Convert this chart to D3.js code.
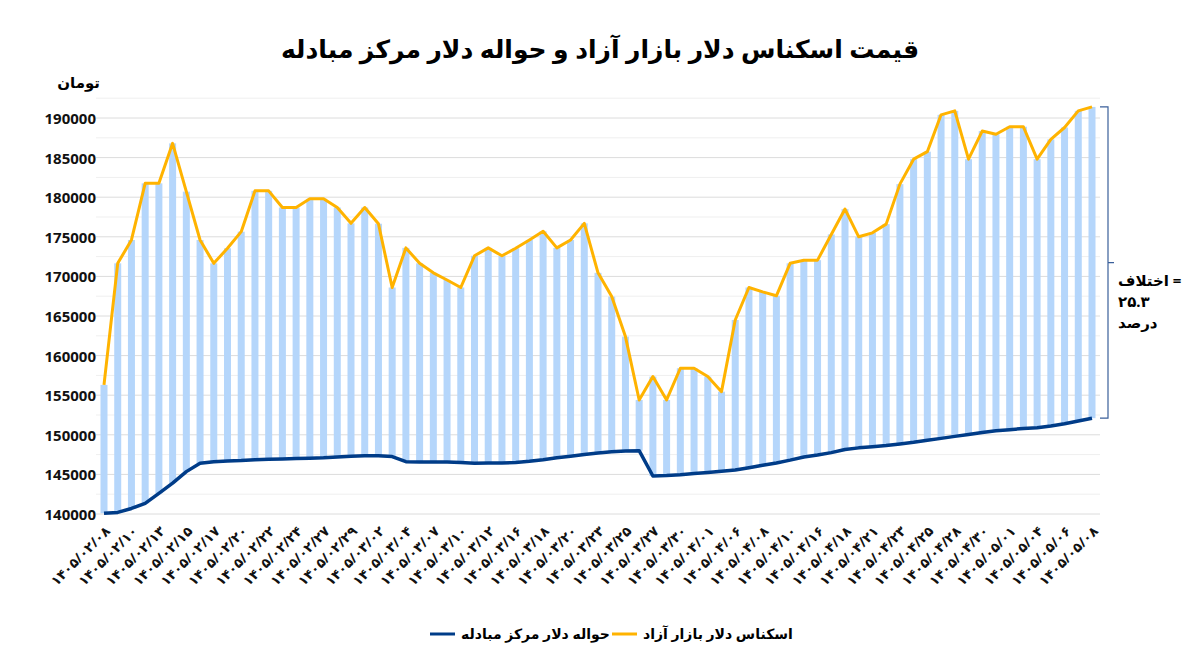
<!DOCTYPE html>
<html>
<head>
<meta charset="utf-8">
<script src="https://cdn.jsdelivr.net/npm/d3@7"></script>
<style>
  body { margin: 0; background: #fff; }
  text { font-family: "Noto Sans", "DejaVu Sans", sans-serif; }
</style>
</head>
<body>
<svg id="chart" width="1200" height="661"></svg>
<script>
// dates (1405/MM/DD), every other one is labelled
const dates = ['02/08','02/09','02/10','02/12','02/13','02/14','02/15','02/16','02/17','02/19',
  '02/20','02/21','02/22','02/23','02/24','02/26','02/27','02/28','02/29','02/31',
  '03/02','03/03','03/04','03/06','03/07','03/09','03/10','03/11','03/12','03/13',
  '03/16','03/17','03/18','03/19','03/20','03/21','03/23','03/24','03/25','03/26',
  '03/27','03/28','03/30','03/31','04/01','04/02','04/06','04/07','04/08','04/09',
  '04/10','04/11','04/16','04/17','04/18','04/20','04/21','04/22','04/23','04/24',
  '04/25','04/27','04/28','04/29','04/30','04/31','05/01','05/03','05/04','05/05',
  '05/06','05/07','05/08'];

// free market cash dollar
const freeMarket = [156300,171650,174600,181750,181750,186800,180700,174600,171650,173550,
  175650,180800,180800,178700,178700,179800,179800,178700,176700,178700,
  176650,168600,173600,171650,170450,169550,168600,172600,173600,172600,
  173550,174600,175700,173600,174600,176700,170450,167450,162400,154400,
  157350,154400,158400,158400,157350,155450,164500,168600,168050,167550,
  171650,172050,172050,175300,178500,175000,175500,176600,181650,184800,
  185750,190400,190900,184800,188350,187950,188900,188900,184800,187300,
  188800,190900,191400];

// exchange center transfer dollar
const exchangeCenter = [140100,140200,140700,141350,142600,143900,145350,146400,146600,146700,
  146750,146850,146900,146950,147000,147050,147100,147200,147300,147350,
  147350,147250,146600,146550,146550,146550,146500,146400,146450,146450,
  146500,146650,146850,147100,147300,147500,147700,147850,147950,148000,
  144800,144850,144950,145100,145250,145400,145550,145850,146150,146450,
  146800,147200,147450,147750,148150,148350,148500,148650,148850,149050,
  149300,149550,149800,150050,150300,150500,150650,150800,150900,151100,
  151400,151750,152100];

const yTicks = [140000,145000,150000,155000,160000,165000,170000,175000,180000,185000,190000];

const faDigits = s => s.replace(/[0-9]/g, d => '۰۱۲۳۴۵۶۷۸۹'[d]);

const svg = d3.select('#chart');
const left = 104, right = 1092, bottom = 514;

const x = d3.scalePoint().domain(dates).range([left, right]);
const y = d3.scaleLinear().domain([140000, 190000]).range([bottom, 118]);

// grid: minor and major
const minor = d3.range(140000, 192501, 2500);
svg.append('g').selectAll('line').data(minor).join('line')
  .attr('x1', 96).attr('x2', 1100)
  .attr('y1', d => y(d)).attr('y2', d => y(d))
  .attr('stroke', d => d % 5000 === 0 ? '#dcdcdc' : '#efefef')
  .attr('stroke-width', 1);

// y axis labels
svg.append('g').selectAll('text').data(yTicks).join('text')
  .attr('x', 96).attr('y', d => y(d) + 6)
  .attr('text-anchor', 'end')
  .attr('font-size', 15).attr('font-weight', 'bold').attr('fill', '#111')
  .text(d => d);

svg.append('text').attr('x', 100).attr('y', 88)
  .attr('text-anchor', 'end').attr('font-size', 15).attr('font-weight', 'bold')
  .text('تومان');

// floating bars between the two series
svg.append('g').selectAll('rect').data(dates).join('rect')
  .attr('x', d => x(d) - 3.5)
  .attr('width', 7)
  .attr('y', (d, i) => y(freeMarket[i]))
  .attr('height', (d, i) => y(exchangeCenter[i]) - y(freeMarket[i]))
  .attr('fill', '#b5d6fb');

const line = arr => d3.line().x((d, i) => x(dates[i])).y(d => y(d))(arr);

svg.append('path').attr('d', line(freeMarket))
  .attr('fill', 'none').attr('stroke', '#ffb300').attr('stroke-width', 3)
  .attr('stroke-linejoin', 'round');
svg.append('path').attr('d', line(exchangeCenter))
  .attr('fill', 'none').attr('stroke', '#003c88').attr('stroke-width', 3.5)
  .attr('stroke-linejoin', 'round');

// x labels
svg.append('g').selectAll('text').data(dates.filter((d, i) => i % 2 === 0)).join('text')
  .attr('transform', d => `translate(${x(d) + 7},${532}) rotate(-45)`)
  .attr('text-anchor', 'end')
  .attr('font-size', 13.5).attr('font-weight', 'bold').attr('fill', '#111')
  .text(d => faDigits('1405/' + d));

// title
svg.append('text').attr('x', 600).attr('y', 58)
  .attr('text-anchor', 'middle').attr('font-size', 25).attr('font-weight', 'bold')
  .text('قیمت اسکناس دلار بازار آزاد و حواله دلار مرکز مبادله');

// difference bracket
const yTop = y(freeMarket[72]), yBot = y(exchangeCenter[72]), yMid = (yTop + yBot) / 2;
svg.append('path')
  .attr('d', `M1100,${yTop} L1108,${yTop} L1108,${yBot} L1100,${yBot} M1108,${yMid} L1114,${yMid}`)
  .attr('fill', 'none').attr('stroke', '#3a5f9a').attr('stroke-width', 1.2);
const note = ['اختلاف =', faDigits('25.3'), 'درصد'];
svg.append('g').selectAll('text').data(note).join('text')
  .attr('x', 1118).attr('y', (d, i) => 286 + i * 21)
  .attr('text-anchor', 'start').attr('font-size', 15).attr('font-weight', 'bold')
  .attr('direction', 'ltr')
  .text(d => d);

// legend
const legend = [
  {name: 'حواله دلار مرکز مبادله', color: '#003c88', x: 430},
  {name: 'اسکناس دلار بازار آزاد', color: '#ffb300', x: 612}
];
const lg = svg.append('g').selectAll('g').data(legend).join('g');
lg.append('line').attr('x1', d => d.x).attr('x2', d => d.x + 25)
  .attr('y1', 634).attr('y2', 634).attr('stroke', d => d.color).attr('stroke-width', 3);
lg.append('text').attr('x', d => d.x + 31).attr('y', 639)
  .attr('text-anchor', 'start').attr('font-size', 14).attr('font-weight', 'bold')
  .attr('direction', 'ltr')
  .text(d => d.name);
</script>
</body>
</html>
